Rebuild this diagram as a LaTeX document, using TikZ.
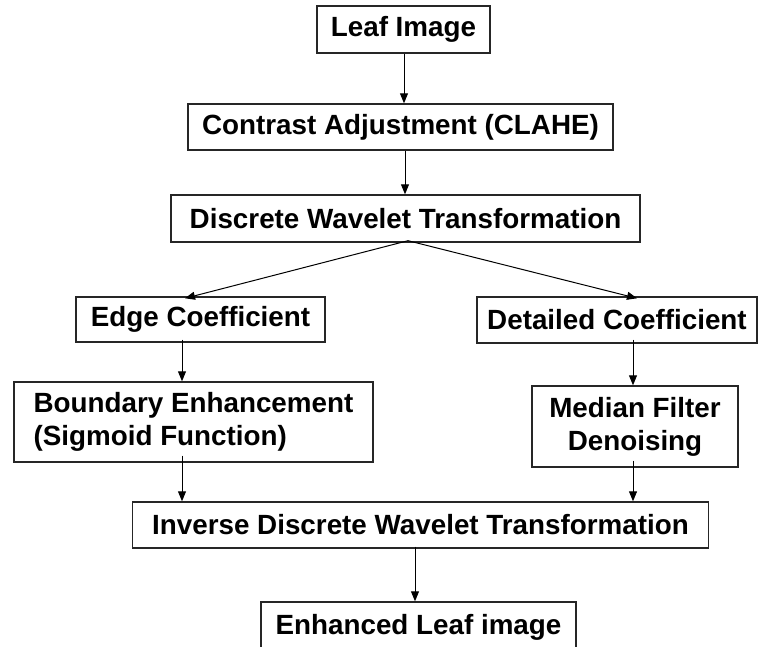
\documentclass[tikz,border=0pt]{standalone}
\usepackage{fontspec}
\setmainfont{Liberation Sans}
\usetikzlibrary{arrows.meta}
\begin{document}
\begin{tikzpicture}[x=1pt,y=-1pt,
  box/.style={draw=black!85, line width=1.4pt, inner sep=0pt, align=center,
    font=\fontsize{27.8}{33}\selectfont\bfseries},
  arr/.style={line width=1pt, -{Triangle[length=10pt,width=8pt]}}]
\clip (0,0) rectangle (758,647);
\fill[white] (0,0) rectangle (758,647);
\node[box, minimum width=173pt, minimum height=47pt] (leaf) at (403.5,29.5) {Leaf Image};
\node[box, minimum width=425pt, minimum height=46pt] (clahe) at (400.5,127) {Contrast Adjustment (CLAHE)};
\node[box, minimum width=469pt, minimum height=47pt] (dwt) at (405.5,218.5) {Discrete Wavelet Transformation};
\node[box, minimum width=249pt, minimum height=45pt] (edge) at (200.5,319.5) {Edge Coefficient};
\node[box, minimum width=280pt, minimum height=46pt] (detail) at (617,320) {Detailed Coefficient};
\node[box, minimum width=359pt, minimum height=80pt, align=left] (bound) at (193.5,422) {Boundary Enhancement\\(Sigmoid Function)};
\node[box, minimum width=206pt, minimum height=81pt] (median) at (635,426.5) {Median Filter\\Denoising};
\node[box, minimum width=576pt, minimum height=46pt] (idwt) at (420.5,525) {Inverse Discrete Wavelet Transformation};
\node[box, minimum width=315pt, minimum height=50pt] (enh) at (418.5,627) {Enhanced Leaf image};
% connectors
\draw[arr] ([xshift=0.5pt]leaf.south) -- ([xshift=0.5pt]leaf.south |- clahe.north);
\draw[arr] ([xshift=4.5pt]clahe.south) -- ([xshift=4.5pt]clahe.south |- dwt.north);
\draw[arr] ([xshift=2.5pt,yshift=2pt]dwt.south) -- ([xshift=-15.5pt,yshift=-2pt]edge.north);
\draw[arr] ([xshift=2.5pt,yshift=2pt]dwt.south) -- ([xshift=20pt,yshift=-2pt]detail.north);
\draw[arr] ([xshift=-18.5pt,yshift=3pt]edge.south) -- ([xshift=-18.5pt]edge.south |- bound.north);
\draw[arr] ([xshift=16pt,yshift=4pt]detail.south) -- ([xshift=16pt]detail.south |- median.north);
\draw[arr] ([xshift=-11.5pt,yshift=7pt]bound.south) -- ([xshift=-11.5pt]bound.south |- idwt.north);
\draw[arr] ([xshift=-2pt,yshift=7pt]median.south) -- ([xshift=-2pt]median.south |- idwt.north);
\draw[arr] ([xshift=-5.5pt,yshift=2pt]idwt.south) -- ([xshift=-5.5pt]idwt.south |- enh.north);
\end{tikzpicture}
\end{document}
